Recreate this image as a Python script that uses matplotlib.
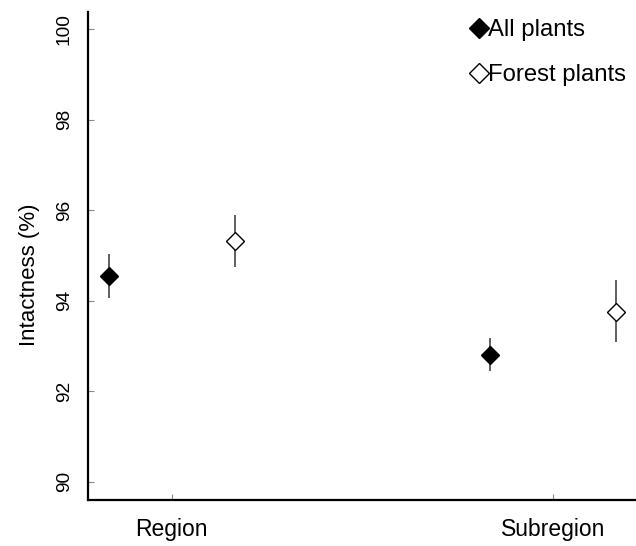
import matplotlib
matplotlib.use("Agg")
import matplotlib.pyplot as plt
import numpy as np

plt.rcParams['font.family'] = ['Liberation Sans', 'DejaVu Sans']

categories = ["Region", "Subregion"]
all_mean = [94.55, 92.8]
all_lo = [94.06, 92.45]
all_hi = [95.03, 93.18]
forest_mean = [95.32, 93.75]
forest_lo = [94.75, 93.09]
forest_hi = [95.89, 94.46]
yticks = [90, 92, 94, 96, 98, 100]

fig = plt.figure(figsize=(6.36, 5.46), dpi=100)
ax = fig.add_axes([0.1384, 0.0842, 0.8616, 0.8938])

x = np.arange(len(categories))
off = 0.166

def err(m, lo, hi):
    m = np.array(m); return [m - np.array(lo), np.array(hi) - m]

ax.errorbar(x - off, all_mean, yerr=err(all_mean, all_lo, all_hi), fmt='none',
            ecolor='#444444', elinewidth=1.2, capsize=0, zorder=2)
ax.errorbar(x + off, forest_mean, yerr=err(forest_mean, forest_lo, forest_hi), fmt='none',
            ecolor='#444444', elinewidth=1.2, capsize=0, zorder=2)
ax.plot(x - off, all_mean, linestyle='none', marker='D', markersize=9.5,
        markerfacecolor='black', markeredgecolor='black', label='All plants', zorder=3)
ax.plot(x + off, forest_mean, linestyle='none', marker='D', markersize=9.5,
        markerfacecolor='white', markeredgecolor='black', markeredgewidth=1.0,
        label='Forest plants', zorder=3)

ax.set_xlim(-0.22, 1.218)
ax.set_ylim(89.6, 100.38)
ax.set_xticks(x)
ax.set_xticklabels(categories, fontsize=16.5)
ax.set_yticks(yticks)
ax.set_yticklabels([str(t) for t in yticks], fontsize=13.8, rotation=90, va='center')
ax.tick_params(direction='in', length=4, width=0.8, color='#888888')
ax.tick_params(axis='x', pad=13)
ax.tick_params(axis='y', pad=11)
ax.set_ylabel("Intactness (%)", fontsize=16)
ax.yaxis.set_label_coords(-0.087, 0.461)

for s in ['top', 'right']:
    ax.spines[s].set_visible(False)
for s in ['left', 'bottom']:
    ax.spines[s].set_linewidth(1.6)

leg = ax.legend(loc='upper left', bbox_to_anchor=(0.697, 0.985), frameon=False,
                fontsize=17.2, handlelength=0.72, handletextpad=0.05,
                labelspacing=0.95, borderaxespad=0, borderpad=0, markerscale=1.05)

fig.savefig("out.png", dpi=100)
